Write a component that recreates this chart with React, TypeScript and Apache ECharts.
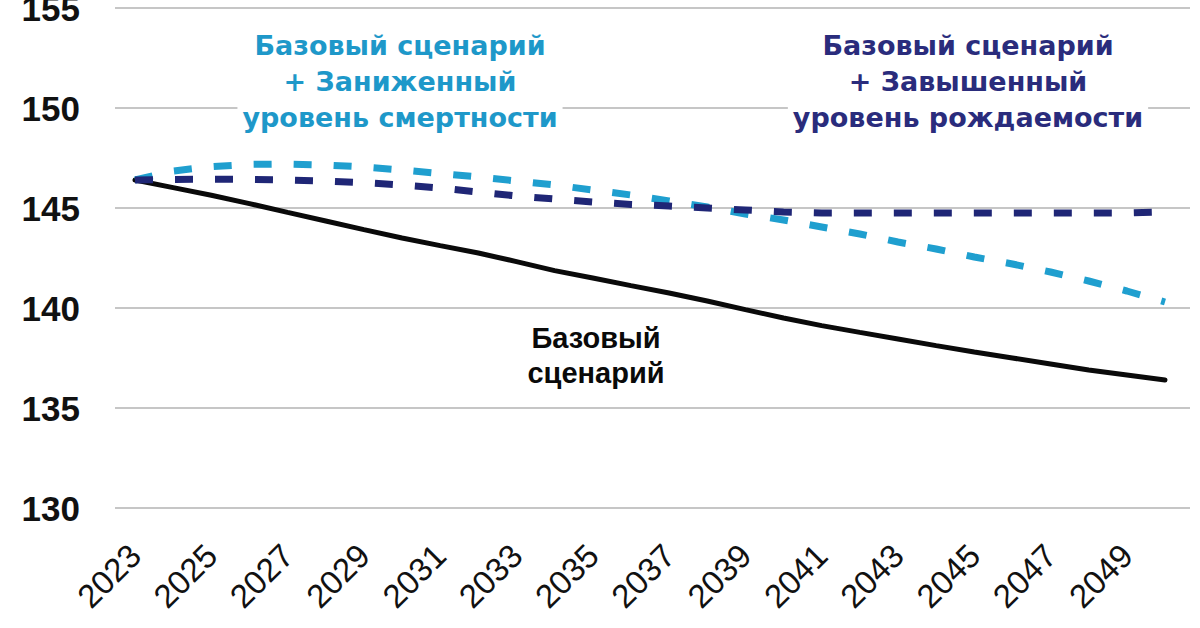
import React, { useEffect, useRef } from "react";
import * as echarts from "echarts";

const years = [2023, 2024, 2025, 2026, 2027, 2028, 2029, 2030, 2031, 2032, 2033, 2034, 2035, 2036, 2037, 2038, 2039, 2040, 2041, 2042, 2043, 2044, 2045, 2046, 2047, 2048, 2049, 2050];

const baseScenario = [146.4, 146.02, 145.64, 145.22, 144.78, 144.35, 143.92, 143.5, 143.12, 142.75, 142.32, 141.87, 141.5, 141.12, 140.75, 140.35, 139.92, 139.5, 139.12, 138.78, 138.45, 138.12, 137.8, 137.5, 137.2, 136.9, 136.65, 136.4];

const lowMortality = [146.4, 146.85, 147.07, 147.18, 147.2, 147.15, 147.05, 146.9, 146.72, 146.55, 146.35, 146.15, 145.9, 145.65, 145.35, 145.05, 144.7, 144.4, 144.05, 143.7, 143.3, 142.95, 142.55, 142.2, 141.8, 141.35, 140.85, 140.3];

const highFertility = [146.4, 146.43, 146.44, 146.43, 146.4, 146.35, 146.27, 146.15, 146.0, 145.8, 145.6, 145.45, 145.3, 145.18, 145.1, 145.0, 144.9, 144.8, 144.75, 144.75, 144.75, 144.75, 144.75, 144.75, 144.75, 144.75, 144.75, 144.8];

const xLabelYears = [2023, 2025, 2027, 2029, 2031, 2033, 2035, 2037, 2039, 2041, 2043, 2045, 2047, 2049];

const labelLowMortality = "Базовый сценарий\n+ Заниженный\nуровень смертности";
const labelHighFertility = "Базовый сценарий\n+ Завышенный\nуровень рождаемости";
const labelBase = "Базовый\nсценарий";

const FONT = "'Liberation Sans', Arial, sans-serif";
const WIDE_FONT = "'DejaVu Sans', Verdana, sans-serif";

export default function App() {
  const ref = useRef<HTMLDivElement>(null);

  useEffect(() => {
    if (!ref.current) return;
    const chart = echarts.init(ref.current, undefined, { renderer: "svg" });
    const pairs = (vals: number[]) => years.map((y, i) => [y, vals[i]]);

    chart.setOption({
      animation: false,
      backgroundColor: "#ffffff",
      grid: {
        left: 115,
        right: 10,
        top: 8,
        bottom: 120,
        containLabel: false,
        outerBoundsMode: "none",
      },
      xAxis: {
        type: "value",
        min: 2022.4757,
        max: 2050.6553,
        axisLine: { show: false },
        axisTick: { show: false },
        splitLine: { show: false },
        axisLabel: {
          customValues: xLabelYears,
          rotate: 45,
          margin: 42,
          color: "#111",
          fontSize: 33,
          fontFamily: FONT,
          formatter: (v: number) => String(Math.round(v)),
        },
      },
      yAxis: {
        type: "value",
        min: 130,
        max: 155,
        interval: 5,
        axisLine: { show: false },
        axisTick: { show: false },
        splitLine: { lineStyle: { color: "#c6c6c6", width: 2 } },
        axisLabel: {
          margin: 35,
          color: "#111",
          fontSize: 35,
          fontWeight: "bold",
          fontFamily: FONT,
        },
      },
      series: [
        {
          name: "Базовый сценарий",
          type: "line",
          data: pairs(baseScenario),
          showSymbol: false,
          z: 3,
          lineStyle: { color: "#0a0a0a", width: 5, cap: "round" },
        },
        {
          name: "Базовый сценарий + Заниженный уровень смертности",
          type: "line",
          data: pairs(lowMortality),
          showSymbol: false,
          z: 4,
          lineStyle: { color: "#1f9fcf", width: 7, type: [18, 22], cap: "butt" },
        },
        {
          name: "Базовый сценарий + Завышенный уровень рождаемости",
          type: "line",
          data: pairs(highFertility),
          showSymbol: false,
          z: 5,
          lineStyle: { color: "#1f2676", width: 7, type: [18, 22], cap: "butt" },
        },
      ],
      graphic: [
        {
          type: "text",
          x: 400,
          y: 27,
          z: 100,
          style: {
            text: labelLowMortality,
            textAlign: "center",
            fill: "#1e98c9",
            font: `bold 27px ${WIDE_FONT}`,
            lineHeight: 36,
            backgroundColor: "#ffffff",
            padding: [0, 5, 0, 5],
          },
        },
        {
          type: "text",
          x: 968,
          y: 27,
          z: 100,
          style: {
            text: labelHighFertility,
            textAlign: "center",
            fill: "#2a2c7c",
            font: `bold 27px ${WIDE_FONT}`,
            lineHeight: 36,
            backgroundColor: "#ffffff",
            padding: [0, 5, 0, 5],
          },
        },
        {
          type: "text",
          x: 596,
          y: 320,
          z: 100,
          style: {
            text: labelBase,
            textAlign: "center",
            fill: "#0a0a0a",
            font: `bold 29px ${FONT}`,
            lineHeight: 35,
          },
        },
      ],
    });

    return () => chart.dispose();
  }, []);

  return (
    <div
      ref={ref}
      style={{ position: "fixed", left: 0, top: 0, width: 1200, height: 628 }}
    />
  );
}
